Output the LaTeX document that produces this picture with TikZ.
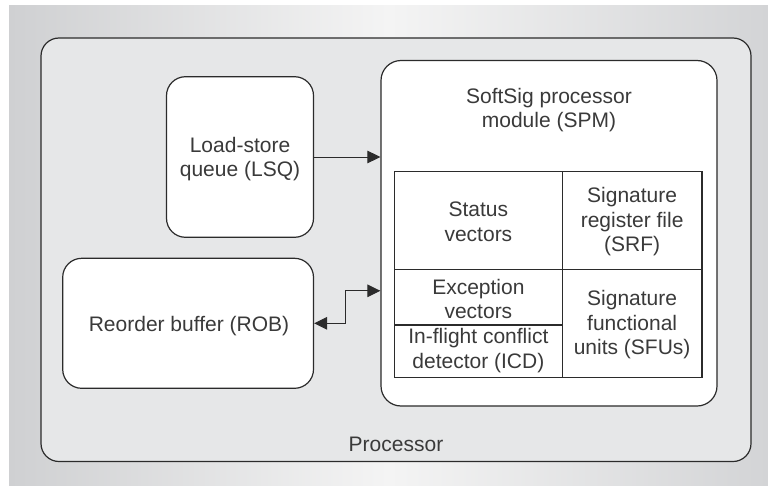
\documentclass[tikz,border=0pt]{standalone}
\usepackage{fontspec}
\setmainfont{Liberation Sans}
\usetikzlibrary{arrows.meta}
\definecolor{bgedgeL}{HTML}{CFD0D2}
\definecolor{bgmid}{HTML}{F4F4F4}
\definecolor{bgedgeR}{HTML}{D3D4D6}
\definecolor{procfill}{HTML}{E6E7E8}
\definecolor{linec}{HTML}{2B2B2B}
\definecolor{textc}{HTML}{3A3A3A}
\tikzset{
  rbox/.style={draw=linec, line width=1.2pt, fill=white, rounded corners=19pt, inner sep=0pt},
  cellbox/.style={draw=linec, line width=1.2pt, inner sep=0pt},
  lbl/.style={text=textc, align=center, inner sep=0pt, font=\fontsize{21}{24.5}\selectfont},
  arr/.style={draw=linec, line width=1pt, -{Triangle[length=13pt,width=12.5pt]}},
  darr/.style={draw=linec, line width=1pt, {Triangle[length=13pt,width=12.5pt]}-{Triangle[length=13pt,width=12.5pt]}},
}
\begin{document}
\begin{tikzpicture}[x=1pt,y=-1pt]
\useasboundingbox (0,0) rectangle (768,487);
\shade[left color=bgedgeL, right color=bgedgeR, middle color=bgmid] (9,6) rectangle (768,485);
% outer processor box
\node (proc) [draw=linec, line width=1.2pt, fill=procfill, rounded corners=18pt, minimum width=710pt, minimum height=423.5pt, inner sep=0pt] at (396,249.75) {};
\node (proclbl) [lbl, anchor=base] at (396,451.5) {Processor};
% SPM
\node (spm) [rbox, rounded corners=20pt, minimum width=336pt, minimum height=345.5pt] at (549,233.25) {};
\node (spmlbl) [lbl] at (549,110) {SoftSig processor\\module (SPM)};
% LSQ
\node (lsq) [rbox, minimum width=147pt, minimum height=160.6pt] at (240,157) {};
\node (lsqlbl) [lbl] at (240,159) {Load-store\\queue (LSQ)};
% ROB
\node (rob) [rbox, minimum width=250.8pt, minimum height=130pt] at (188.1,323.3) {};
\node (roblbl) [lbl] at (189,326) {Reorder buffer (ROB)};
% table cells
\node (status) [cellbox, minimum width=167.8pt, minimum height=98pt] at (478.4,220.7) {};
\node (srf) [cellbox, minimum width=139.7pt, minimum height=98pt] at (632.15,220.7) {};
\node (exc) [cellbox, minimum width=167.8pt, minimum height=55.3pt] at (478.4,297.35) {};
\node (icd) [cellbox, minimum width=167.8pt, minimum height=52.5pt] at (478.4,351.25) {};
\node (sfu) [cellbox, minimum width=139.7pt, minimum height=107.8pt] at (632.15,323.6) {};
\node (statuslbl) [lbl] at (478.4,222) {Status\\vectors};
\node (srflbl) [lbl] at (632.15,222) {Signature\\register file\\(SRF)};
\node (exclbl) [lbl] at (478.4,299) {Exception\\vectors};
\node (icdlbl) [lbl] at (478.4,350.5) {In-flight conflict\\detector (ICD)};
\node (sfulbl) [lbl] at (632.15,325) {Signature\\functional\\units (SFUs)};
% connectors
\draw[arr] (lsq.east) -- (lsq.east -| spm.west);
\coordinate (bend) at (345.5,290.8);
\draw[darr] (rob.east) -| (bend) -- (bend -| spm.west);
\end{tikzpicture}
\end{document}
